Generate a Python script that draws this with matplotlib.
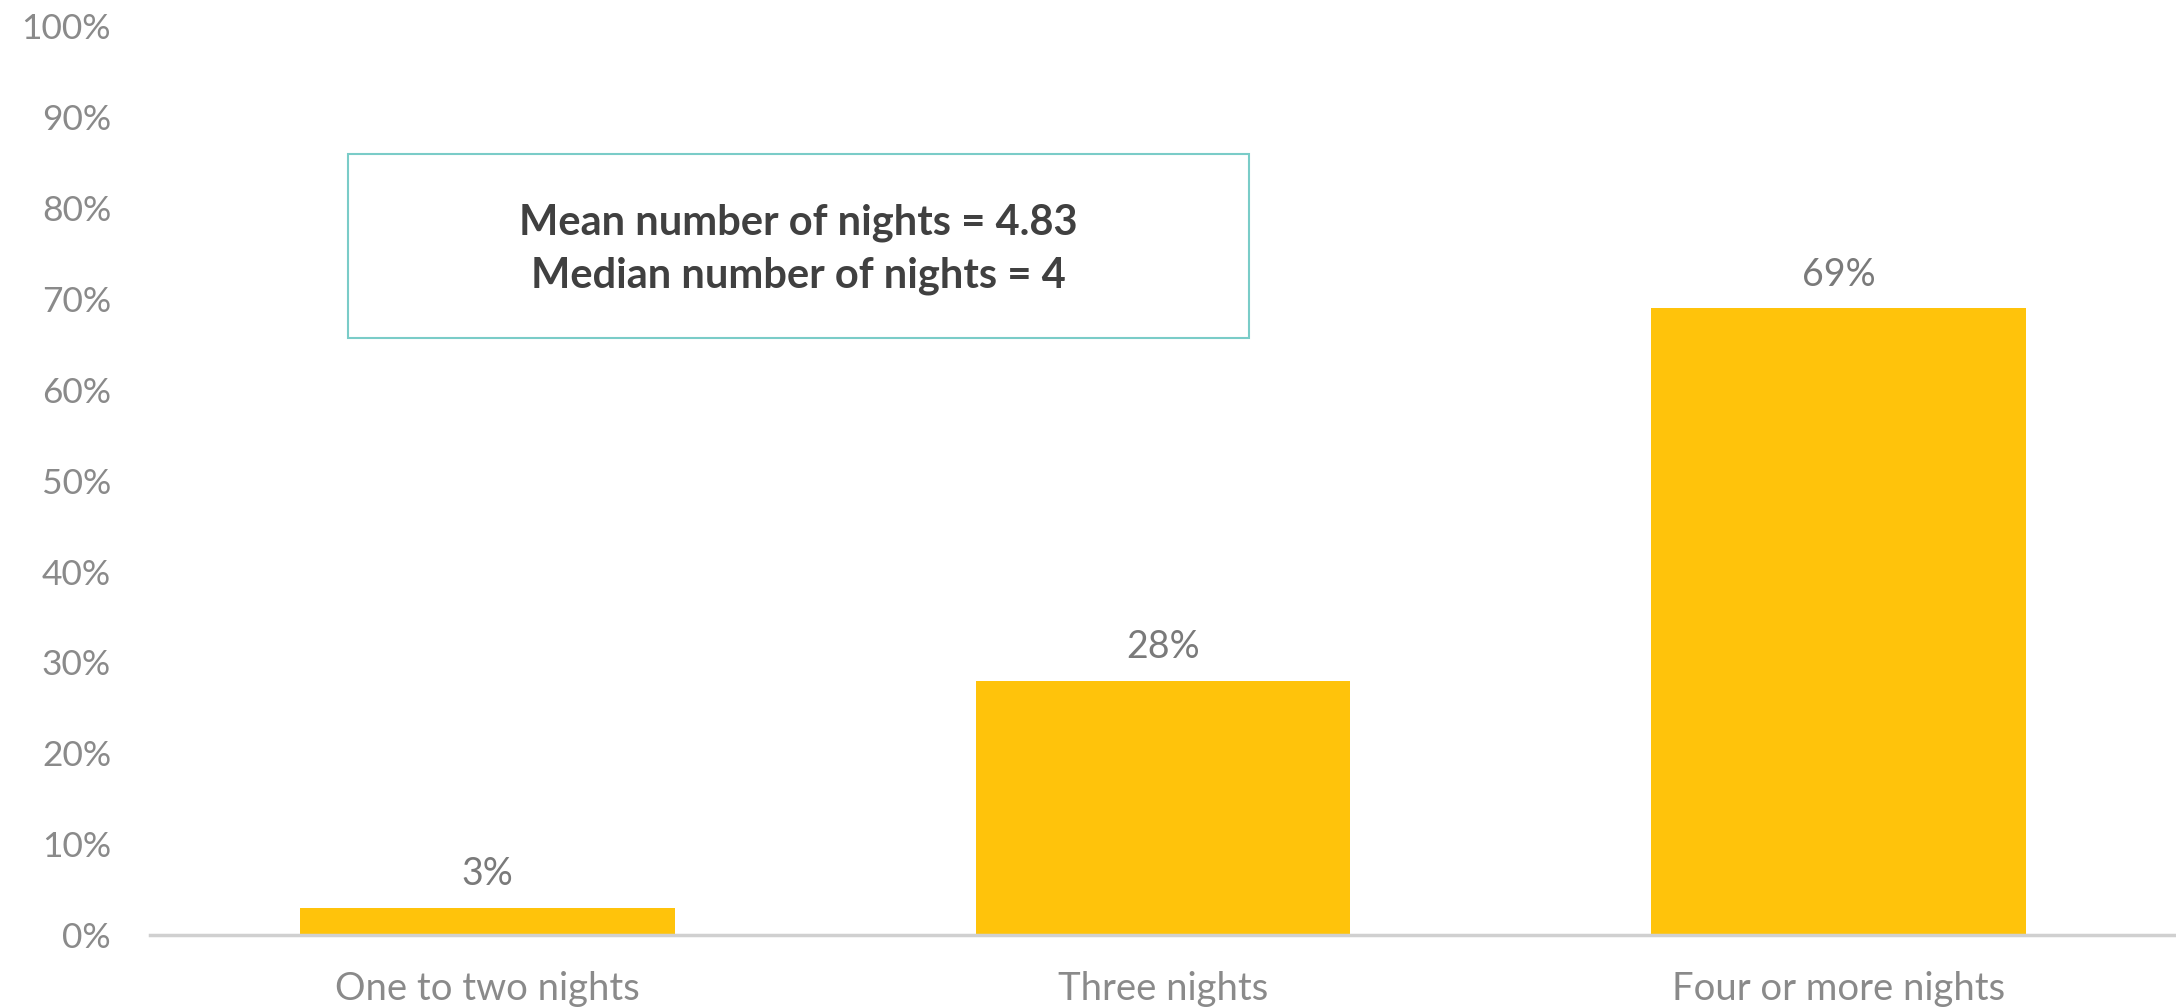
import matplotlib
matplotlib.use('Agg')
import matplotlib.pyplot as plt
from matplotlib.patches import Rectangle

categories = ['One to two nights', 'Three nights', 'Four or more nights']
shares = [3, 28, 69]
yticks = [0, 10, 20, 30, 40, 50, 60, 70, 80, 90, 100]
box_lines = ['Mean number of nights = 4.83', 'Median number of nights = 4']

plt.rcParams['font.family'] = ['Lato', 'DejaVu Sans']

fig = plt.figure(figsize=(21.76, 10.07), dpi=100)
ax = fig.add_axes([150 / 2176, 72 / 1007, 1 - 150 / 2176, (935 - 26.5) / 1007])

x = list(range(len(categories)))
ax.bar(x, shares, width=0.555, color='#FFC30B', zorder=2)
for xi, v in zip(x, shares):
    ax.text(xi, v + 1.7, f'{v}%', ha='center', va='bottom', fontsize=27,
            color='#7A7A7A')

ax.set_xlim(-0.5, 2.5)
ax.set_ylim(0, 100)
ax.set_yticks(yticks)
ax.set_yticklabels([f'{t}%' for t in yticks])
ax.set_xticks(x)
ax.set_xticklabels(categories)
ax.tick_params(axis='both', length=0, labelcolor='#8A8A8A')
ax.tick_params(axis='y', pad=28, labelsize=25.5)
ax.tick_params(axis='x', pad=26, labelsize=27.5)

for s in ['top', 'right', 'left']:
    ax.spines[s].set_visible(False)
ax.spines['bottom'].set_color('#D0D0D0')
ax.spines['bottom'].set_linewidth(2.5)

# text box with summary stats
box = Rectangle((-0.207, 65.7), 1.335, 20.3, facecolor='white', edgecolor='#7ACCC8',
                linewidth=1.5, zorder=3)
ax.add_patch(box)
ax.text(0.46, 78.4, box_lines[0], ha='center', va='center', fontsize=30,
        fontweight='bold', color='#404040', zorder=4)
ax.text(0.46, 72.6, box_lines[1], ha='center', va='center', fontsize=30,
        fontweight='bold', color='#404040', zorder=4)

fig.savefig('out.png', dpi=100)
